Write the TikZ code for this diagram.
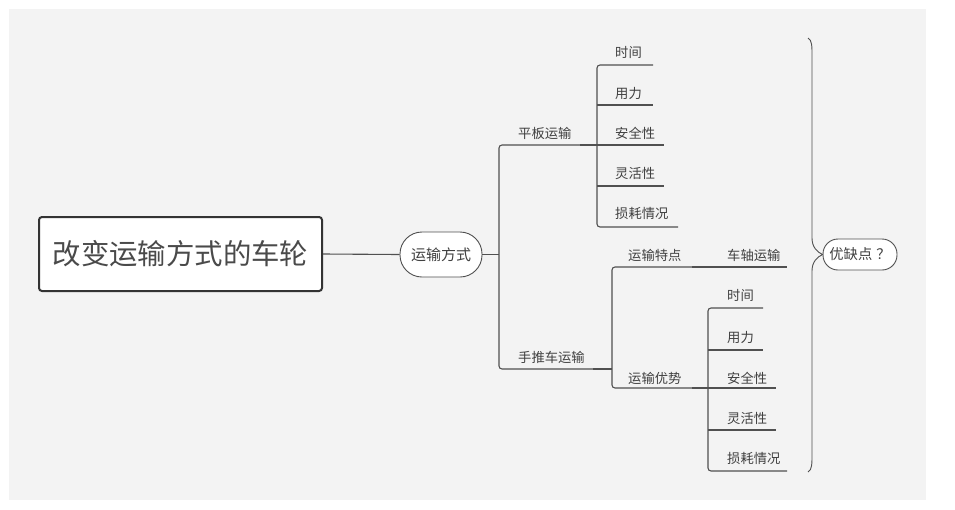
\documentclass[tikz,border=0pt]{standalone}
\usepackage{fontspec}
\newfontfamily\cjk{Noto Sans CJK SC}
\definecolor{bg}{HTML}{F3F3F3}
\definecolor{ln}{HTML}{505050}
\definecolor{tx}{HTML}{404040}
\definecolor{rtx}{HTML}{4A4A4A}
\begin{document}
\begin{tikzpicture}[x=1pt,y=-1pt,
  lbl/.style={anchor=west,inner sep=0pt,text=tx,font=\cjk\fontsize{13.3}{16}\selectfont},
  conn/.style={draw=ln,line width=1.1pt,rounded corners=3pt},
  thick seg/.style={draw=ln,line width=1.8pt},
  pill/.style={draw=ln,line width=0.9pt,fill=white,text=tx,inner sep=0pt}]
\useasboundingbox (0,0) rectangle (955,509);
\fill[white] (0,0) rectangle (955,509);
\fill[bg] (9,9) rectangle (926,500);
% root
\node[draw=black!80,line width=2pt,fill=white,rounded corners=3pt,minimum width=283pt,minimum height=74pt,inner sep=0pt,text=rtx,font=\cjk\fontsize{28.4}{32}\selectfont] (root) at (180.5,254) {改变运输方式的车轮};
\node[pill,rounded corners=22pt,minimum width=82pt,minimum height=45pt,font=\cjk\fontsize{15}{18}\selectfont] (ys) at (441,254.5) {运输方式};
\node[pill,rounded corners=15pt,minimum width=74pt,minimum height=31pt,font=\cjk\fontsize{14.3}{17}\selectfont] (yq) at (860,254.5) {优缺点\hspace{4pt}？};
\draw[conn] (root.east) -- (ys.west);
% trunk
\coordinate (t) at (499,254.5);
\draw[conn] (ys.east) -- (t);
\coordinate (pbE) at (580,145);
\coordinate (sbE) at (593,369);
\draw[conn] (pbE) -- (499,145) -- (499,369) -- (sbE);
\node[lbl] (pb) at (518,133) {平板运输};
\node[lbl] (sb) at (518,357) {手推车运输};
% group 1
\coordinate (g1) at (597,145);
\draw[thick seg] (pbE) -- (g1);
\draw[conn] (653,65) -- (597,65) -- (597,227) -- (678,227);
\draw[conn] (597,105) -- (653,105);
\draw[conn] (597,145) -- (664,145);
\draw[conn] (597,186) -- (664,186);
\node[lbl] (a1) at (615,52) {时间};
\node[lbl] (a2) at (615,93) {用力};
\node[lbl] (a3) at (615,133) {安全性};
\node[lbl] (a4) at (615,173) {灵活性};
\node[lbl] (a5) at (615,213) {损耗情况};
% group 2
\coordinate (g2) at (612,369);
\draw[thick seg] (sbE) -- (g2);
\draw[conn] (692,267) -- (612,267) -- (612,388) -- (692,388);
\node[lbl] (td) at (628,255) {运输特点};
\node[lbl] (ysh) at (628,378) {运输优势};
\draw[conn] (692,267) -- (708,267);
\draw[conn] (708,267) -- (787,267);
\node[lbl] (cz) at (727,255) {车轴运输};
% group 3
\draw[thick seg] (692,388) -- (708,388);
\draw[conn] (763,308) -- (708,308) -- (708,471) -- (787,471);
\draw[conn] (708,350) -- (763,350);
\draw[conn] (708,388) -- (776,388);
\draw[conn] (708,430) -- (776,430);
\node[lbl] (b1) at (727,295) {时间};
\node[lbl] (b2) at (727,337) {用力};
\node[lbl] (b3) at (727,378) {安全性};
\node[lbl] (b4) at (727,418) {灵活性};
\node[lbl] (b5) at (727,458) {损耗情况};
% brace
\coordinate (bt) at (808,38);
\coordinate (bb) at (808,472);
\draw[ln,line width=0.9pt] (bt) .. controls (812,40) and (812,46) .. (812,56) -- (812,238)
  .. controls (812,247) and (817,252) .. (yq.west)
  .. controls (817,257) and (812,262) .. (812,271) -- (812,454)
  .. controls (812,464) and (812,470) .. (bb);
\end{tikzpicture}
\end{document}
